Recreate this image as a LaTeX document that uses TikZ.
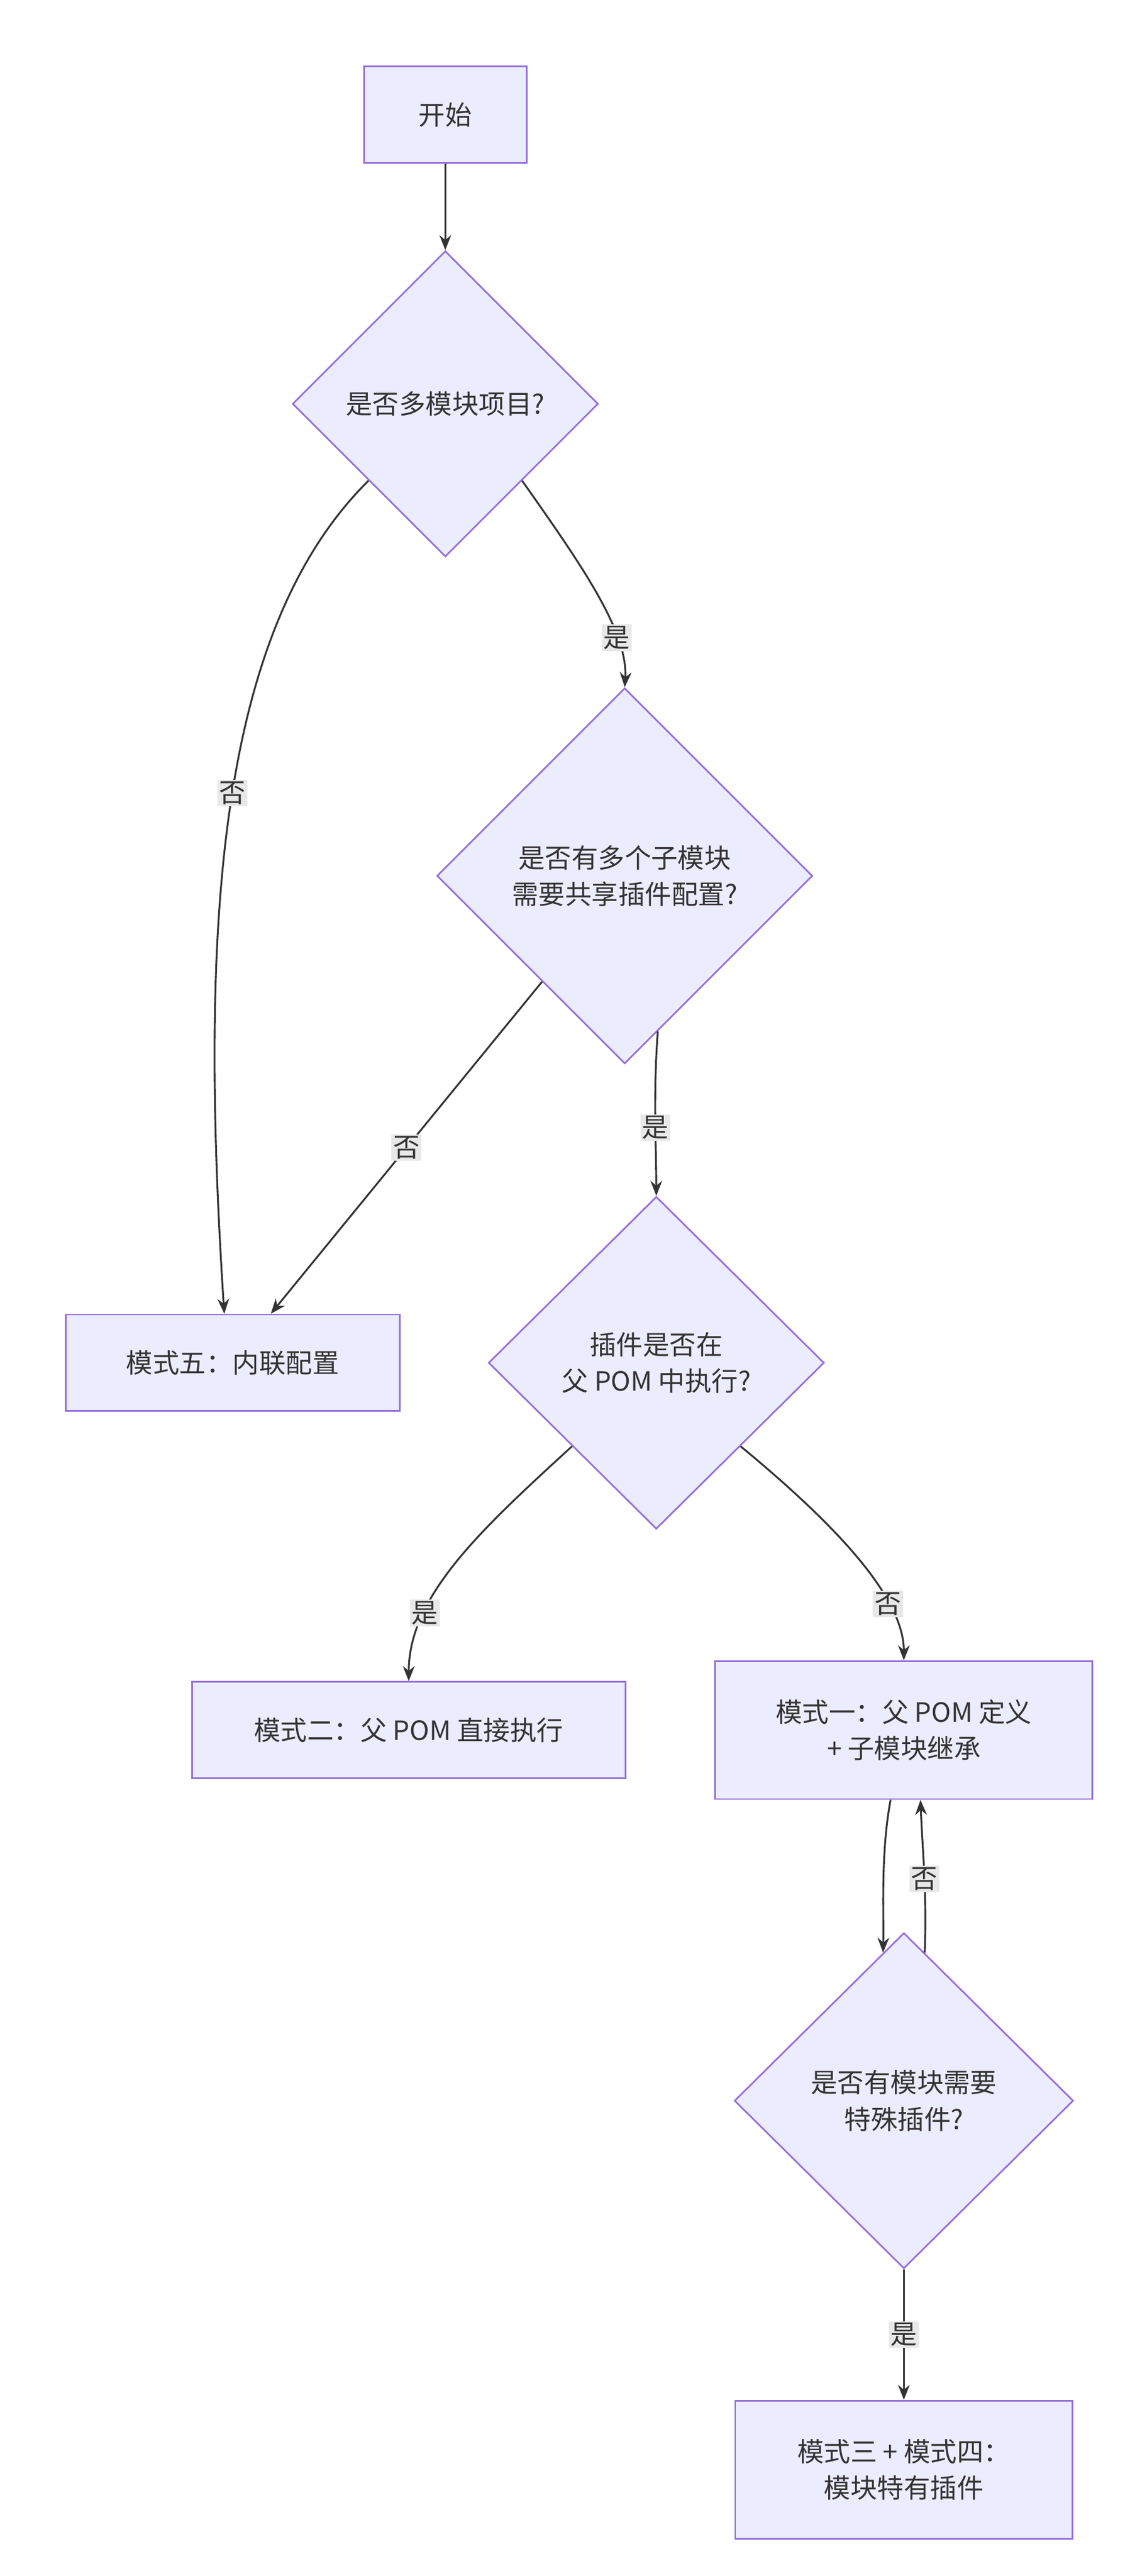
\documentclass[tikz,border=0pt]{standalone}
\usepackage{fontspec}
\setmainfont{Noto Sans CJK SC}
\usetikzlibrary{shapes.geometric, arrows.meta, positioning}
\definecolor{boxfill}{HTML}{ECECFF}
\definecolor{boxline}{HTML}{9370DB}
\definecolor{ink}{HTML}{333333}
\definecolor{lblbg}{HTML}{E8E8E8}
\tikzset{
    stepbox/.style={
        rectangle, draw=boxline, fill=boxfill, line width=1pt,
        text=ink, font=\fontsize{16}{22}\selectfont, align=center, inner sep=0pt
    },
    decision/.style={
        diamond, draw=boxline, fill=boxfill, line width=1pt,
        text=ink, font=\fontsize{16}{22}\selectfont, align=center, inner sep=0pt
    },
    flow/.style={draw=ink, line width=1.1pt, -{Stealth[length=9pt,width=7pt]}},
    lbl/.style={fill=lblbg, text=ink, font=\fontsize{16}{20}\selectfont, inner sep=1pt}
}
\begin{document}
\begin{tikzpicture}[x=1pt, y=-1pt]
\useasboundingbox[fill=white] (0,0) rectangle (690,1550);

% Nodes
\node[stepbox, minimum width=98, minimum height=58] (start) at (268,69) {开始};
\node[decision, minimum width=184, minimum height=184] (multi) at (268,243) {是否多模块项目?};
\node[decision, minimum width=226, minimum height=226] (share) at (376,527) {是否有多个子模块\\需要共享插件配置?};
\node[stepbox, minimum width=201, minimum height=58] (inline) at (140,820) {模式五：内联配置};
\node[decision, minimum width=202, minimum height=200] (parent) at (395,820) {插件是否在\\父 POM 中执行?};
\node[stepbox, minimum width=261, minimum height=58] (direct) at (246,1041) {模式二：父 POM 直接执行};
\node[stepbox, minimum width=227, minimum height=83] (inherit) at (544,1041) {模式一：父 POM 定义\\+ 子模块继承};
\node[decision, minimum width=204, minimum height=202] (special) at (544,1264) {是否有模块需要\\特殊插件?};
\node[stepbox, minimum width=203, minimum height=83] (own) at (544,1486) {模式三 + 模式四：\\模块特有插件};

% Connectors
\draw[flow] (start) -- (multi);
\draw[flow] (multi.south west) .. controls (130,380) and (120,560) .. ([xshift=-5]inline.north)
    node[lbl, pos=0.48] {否};
\draw[flow] (multi.south east) .. controls (350,340) and (378,380) .. (share.north)
    node[lbl, pos=0.72] {是};
\draw[flow] (share.-128) -- ([xshift=23]inline.north)
    node[lbl, pos=0.5] {否};
\draw[flow] (share.-78) .. controls (393,660) and (395,690) .. (parent.north)
    node[lbl, pos=0.55] {是};
\draw[flow] (parent.south west) .. controls (290,920) and (246,960) .. (direct.north)
    node[lbl, pos=0.72] {是};
\draw[flow] (parent.south east) .. controls (500,915) and (544,960) .. (inherit.north)
    node[lbl, pos=0.72] {否};
\draw[flow] ([xshift=-8]inherit.south) .. controls (530,1115) and (532,1150) .. (special.98);
\draw[flow] (special.82) .. controls (558,1140) and (555,1110) .. ([xshift=10]inherit.south)
    node[lbl, pos=0.45] {否};
\draw[flow] (special) -- (own)
    node[lbl, pos=0.5] {是};

\end{tikzpicture}
\end{document}
